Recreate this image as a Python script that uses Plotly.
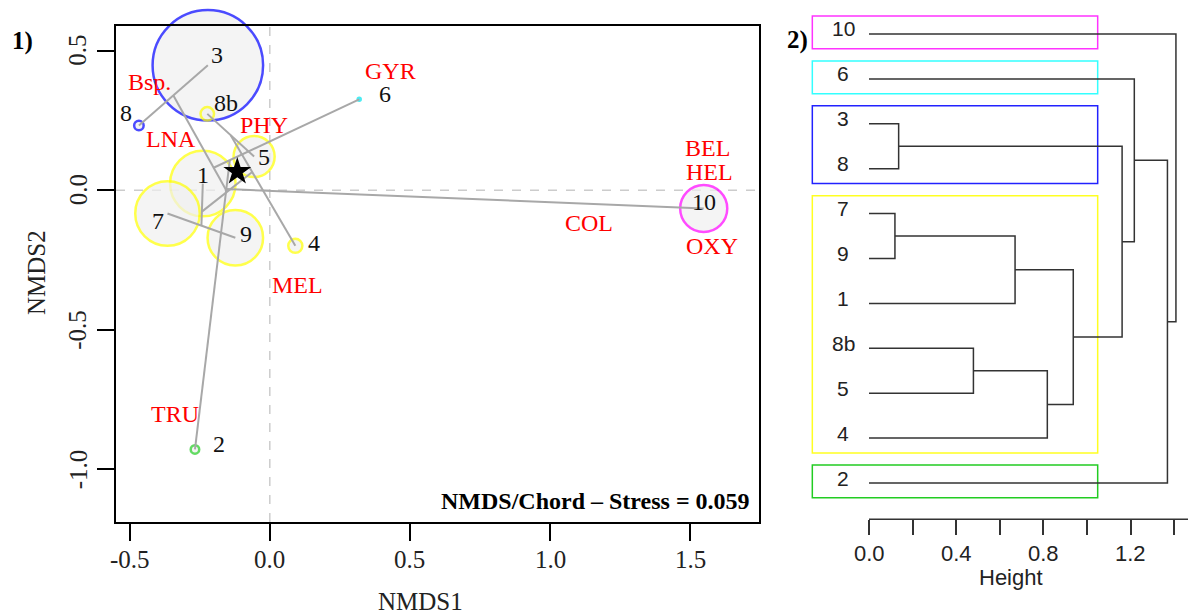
import plotly.graph_objects as go

# ---------------- DATA ----------------
# NMDS site scores
sites = ["1", "2", "3", "4", "5", "6", "7", "8", "8b", "9", "10"]
nmds1 = [-0.239, -0.267, -0.221, 0.091, -0.056, 0.319, -0.365, -0.467, -0.223, -0.123, 1.548]
nmds2 = [0.024, -0.929, 0.448, -0.199, 0.121, 0.326, -0.083, 0.232, 0.274, -0.170, -0.065]
# bubble (abundance-like) value per site
bubble = [3.35, 0.50, 5.60, 0.78, 2.13, 0.22, 3.30, 0.55, 0.75, 2.85, 2.43]
site_group = ["yellow", "green", "blue", "yellow", "yellow", "cyan", "yellow", "blue", "yellow", "yellow", "magenta"]

# species scores
species = ["Bsp.", "LNA", "GYR", "PHY", "MEL", "TRU", "COL", "BEL", "HEL", "OXY"]
sp1 = [-0.428, -0.351, 0.432, -0.021, 0.099, -0.340, 1.140, 1.562, 1.568, 1.578]
sp2 = [0.388, 0.185, 0.428, 0.235, -0.340, -0.802, -0.116, 0.150, 0.067, -0.201]

# centroid marker (star)
star_x = [-0.116]
star_y = [0.067]

# hierarchical clustering (hclust-like merges; int = earlier merge index)
merges = [("7", "9"), ("3", "8"), ("8b", "5"), (0, "1"), (2, "4"), (3, 4), (1, 5), ("6", 6), ("2", 7), ("10", 8)]
heights = [0.119, 0.136, 0.479, 0.670, 0.818, 0.937, 1.161, 1.217, 1.369, 1.408]
leaf_order = ["10", "6", "3", "8", "7", "9", "1", "8b", "5", "4", "2"]
groups = [["10"], ["6"], ["3", "8"], ["7", "9", "1", "8b", "5", "4"], ["2"]]
group_colors = ["#ff33ff", "#33ffff", "#2222ff", "#ffff22", "#22cc22"]

x_ticks = [-0.5, 0.0, 0.5, 1.0, 1.5]
y_ticks = [-1.0, -0.5, 0.0, 0.5]
h_ticks = [0.0, 0.2, 0.4, 0.6, 0.8, 1.0, 1.2, 1.4]
h_labels = [0.0, 0.4, 0.8, 1.2]

# ---------------- STYLE / LAYOUT ----------------
W, H = 1188, 614
SERIF = "Liberation Serif"
SANS = "Liberation Sans"
col_map = {"yellow": "#ffff00", "green": "#22cc22", "blue": "#0000ff", "cyan": "#00e5ee", "magenta": "#ff00ff"}

def px(xp):
    return xp / W

def py(yp):
    return 1 - yp / H

fig = go.Figure()

# --- bubbles ---
sizes = [max(20 * b - 1.5, 3) for b in bubble]
fills = ["#f0f0f0" if g != "cyan" else col_map[g] for g in site_group]
fig.add_trace(go.Scatter(
    x=nmds1, y=nmds2, mode="markers", xaxis="x", yaxis="y", cliponaxis=False,
    marker=dict(size=sizes, color=fills,
                line=dict(color=[col_map[g] for g in site_group], width=2.5)),
    hoverinfo="text", text=sites, showlegend=False))

# --- ordicluster segments computed from merges ---
pos = {s: (nmds1[i], nmds2[i]) for i, s in enumerate(sites)}
node_pos, node_n = [], []
seg_x, seg_y = [], []
for a, b in merges:
    pa = pos[a] if isinstance(a, str) else node_pos[a]
    pb = pos[b] if isinstance(b, str) else node_pos[b]
    na = 1 if isinstance(a, str) else node_n[a]
    nb = 1 if isinstance(b, str) else node_n[b]
    seg_x += [pa[0], pb[0], None]
    seg_y += [pa[1], pb[1], None]
    node_pos.append(((na * pa[0] + nb * pb[0]) / (na + nb), (na * pa[1] + nb * pb[1]) / (na + nb)))
    node_n.append(na + nb)
fig.add_trace(go.Scatter(x=seg_x, y=seg_y, mode="lines", xaxis="x", yaxis="y",
                         line=dict(color="#a8a8a8", width=2), hoverinfo="skip", showlegend=False))

# --- star ---
fig.add_trace(go.Scatter(x=star_x, y=star_y, mode="markers", xaxis="x", yaxis="y",
                         marker=dict(symbol="star", size=21, color="black"),
                         hoverinfo="skip", showlegend=False))

annotations = []

def note(x, y, text, xref="paper", yref="paper", size=25, family=SERIF, color="#222222", **kw):
    d = dict(x=x, y=y, xref=xref, yref=yref, text=text, showarrow=False,
             xanchor=kw.pop("xanchor", "center"), yanchor=kw.pop("yanchor", "middle"),
             font=dict(family=family, size=size, color=color))
    d.update(kw)
    annotations.append(d)

# site labels offsets (px, dx right, dy down)
site_off = {"1": (0.6, -8.8), "2": (24, -5.5), "3": (9, -10.8), "4": (19, -3.2), "5": (9.6, 0.3),
            "6": (25.7, -5.5), "7": (-9.5, 7.2), "8": (-13.2, -12.4), "8b": (18.8, -10.7),
            "9": (11, -3.9), "10": (0.5, -6.8)}
for i, s in enumerate(sites):
    dx, dy = site_off[s]
    note(nmds1[i], nmds2[i], s, xref="x", yref="y", size=24, color="#111111", xshift=dx, yshift=-dy)
for i, s in enumerate(species):
    note(sp1[i], sp2[i], s, xref="x", yref="y", size=24, color="#ff0000")

# stress label
note(px(752), py(501), "<b>NMDS/Chord – Stress = 0.059</b>", size=24, color="black", xanchor="right")
# axis titles
note(px(420.5), py(601), "NMDS1")
note(px(36), py(273), "NMDS2", textangle=-90)
# panel labels
note(px(22.5), py(41), "<b>1)</b>", color="black")
note(px(797), py(40), "<b>2)</b>", color="black")
# tick labels (R style)
for t in x_ticks:
    note(t, py(559.3), f"{t:.1f}", xref="x")
for t in y_ticks:
    note(px(78), t, f"{t:.1f}", yref="y", textangle=-90)

# ---------------- DENDROGRAM ----------------
leaf_y = {s: i for i, s in enumerate(leaf_order)}
d_node = []
dx_, dy_ = [], []
for k, (a, b) in enumerate(merges):
    ya = leaf_y[a] if isinstance(a, str) else d_node[a][1]
    yb = leaf_y[b] if isinstance(b, str) else d_node[b][1]
    ha = 0.0 if isinstance(a, str) else d_node[a][0]
    hb = 0.0 if isinstance(b, str) else d_node[b][0]
    h = heights[k]
    dx_ += [ha, h, h, hb, None]
    dy_ += [ya, ya, yb, yb, None]
    d_node.append((h, (ya + yb) / 2))
fig.add_trace(go.Scatter(x=dx_, y=dy_, mode="lines", xaxis="x2", yaxis="y2",
                         line=dict(color="#333333", width=1.5), hoverinfo="skip", showlegend=False))

shapes = []
for g, c in zip(groups, group_colors):
    idx = [leaf_y[s] for s in g]
    shapes.append(dict(type="rect", xref="x2", yref="y2", x0=-0.26, x1=1.049,
                       y0=min(idx) - 0.40, y1=max(idx) + 0.33, line=dict(color=c, width=1.5), layer="below"))
for s in leaf_order:
    note(-0.119, leaf_y[s], s, xref="x2", yref="y2", size=21, family=SANS, yshift=5)
for t in h_labels:
    note(t, py(553.3), f"{t:.1f}", xref="x2", size=22, family=SANS)
note(px(1011), py(577), "Height", size=22, family=SANS)

# zero lines in NMDS panel
shapes.append(dict(type="line", xref="x", yref="y", x0=0, x1=0, y0=-1.189, y1=0.589,
                   line=dict(color="#cccccc", width=1.5, dash="dash"), layer="below"))
shapes.append(dict(type="line", xref="x", yref="y", x0=-0.5487, x1=1.7442, y0=0, y1=0,
                   line=dict(color="#cccccc", width=1.5, dash="dash"), layer="below"))
# dendrogram axis line
shapes.append(dict(type="line", xref="x2", yref="paper", x0=0, x1=1.4633, y0=py(519.3), y1=py(519.3),
                   line=dict(color="#333333", width=1.5)))

fig.update_layout(
    width=W, height=H, margin=dict(l=0, r=0, t=0, b=0),
    paper_bgcolor="white", plot_bgcolor="rgba(0,0,0,0)", showlegend=False,
    xaxis=dict(domain=[px(116), px(758.7)], range=[-0.5487, 1.7442], anchor="y",
               tickvals=x_ticks, showticklabels=False,
               ticks="outside", ticklen=17, tickwidth=2, tickcolor="black",
               showline=True, mirror=True, linewidth=2, linecolor="black",
               showgrid=False, zeroline=False),
    yaxis=dict(domain=[py(522), py(26)], range=[-1.189, 0.589], anchor="x",
               tickvals=y_ticks, showticklabels=False,
               ticks="outside", ticklen=17, tickwidth=2, tickcolor="black",
               showline=True, mirror=True, linewidth=2, linecolor="black",
               showgrid=False, zeroline=False),
    xaxis2=dict(domain=[px(800), 1.0], range=[-0.3165, 1.4633], anchor="y2",
                tickvals=h_ticks, showticklabels=False,
                ticks="outside", ticklen=15, tickwidth=1.5, tickcolor="#333333",
                showline=False, showgrid=False, zeroline=False),
    yaxis2=dict(domain=[py(519.3), 1.0], range=[10.808, -0.757], anchor="x2", visible=False),
    shapes=shapes, annotations=annotations,
)

fig.write_html("out.html", config={"displayModeBar": False},
               post_script="document.body.style.margin='0px';")
